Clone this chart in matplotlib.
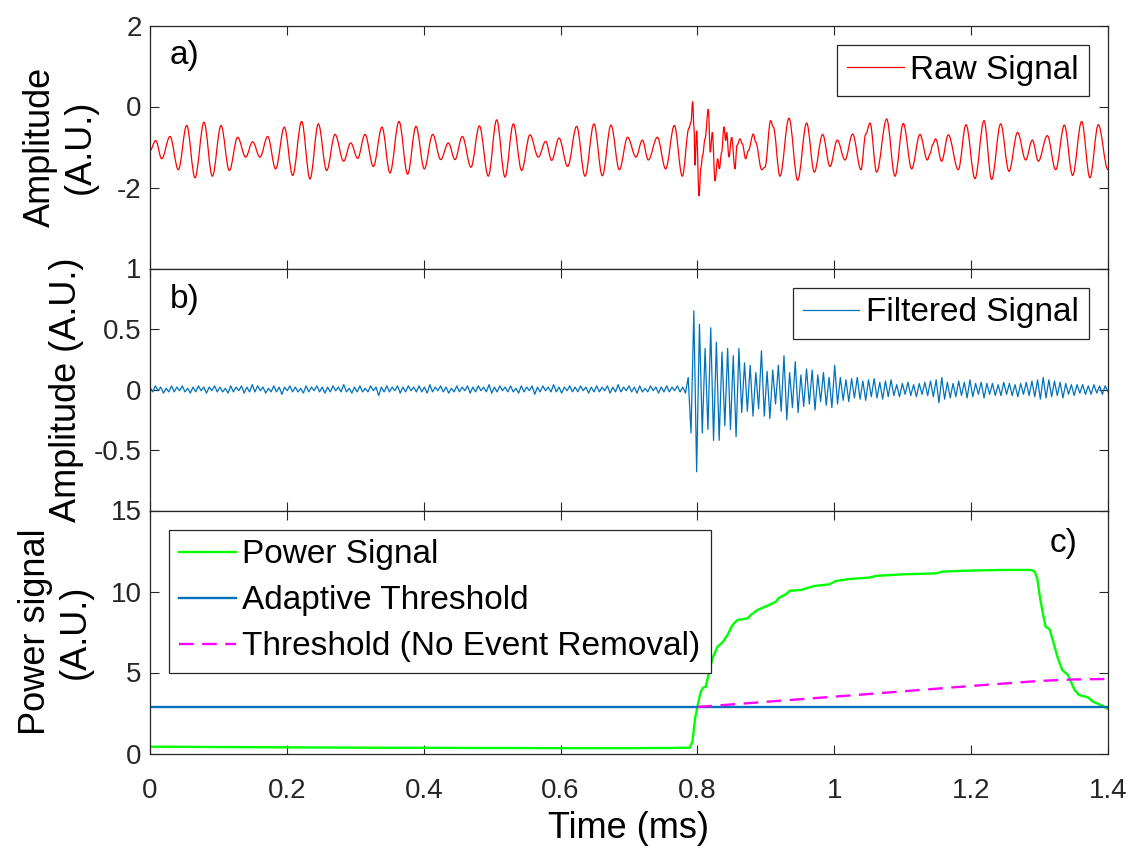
import numpy as np
import matplotlib
matplotlib.use("Agg")
import matplotlib.pyplot as plt
from matplotlib.path import Path
from matplotlib.patches import PathPatch
from matplotlib.lines import Line2D

plt.rcParams['font.family'] = ['Liberation Sans', 'DejaVu Sans']

# ---------------- data ----------------
# Raw signal (extrema), time in ms
raw_t = [0.0000, 0.0083, 0.0171, 0.0292, 0.0414, 0.0536, 0.0658, 0.0789, 0.0911, 0.1038,
         0.1159, 0.1281, 0.1398, 0.1500, 0.1607, 0.1720, 0.1836, 0.1963, 0.2085, 0.2216,
         0.2338, 0.2460, 0.2582, 0.2704, 0.2830, 0.2933, 0.3035, 0.3142, 0.3264, 0.3390,
         0.3507, 0.3639, 0.3765, 0.3887, 0.4009, 0.4131, 0.4248, 0.4360, 0.4457, 0.4564,
         0.4691, 0.4813, 0.4944, 0.5066, 0.5188, 0.5310, 0.5431, 0.5553, 0.5675, 0.5782,
         0.5870, 0.5977, 0.6104, 0.6235, 0.6357, 0.6488, 0.6610, 0.6737, 0.6859, 0.6980,
         0.7102, 0.7195, 0.7282, 0.7414, 0.7536, 0.7662, 0.7779, 0.7877, 0.7906, 0.7930,
         0.7950, 0.7964, 0.7989, 0.8023, 0.8052, 0.8076, 0.8111, 0.8159, 0.8188, 0.8218,
         0.8257, 0.8296, 0.8320, 0.8354, 0.8388, 0.8413, 0.8427, 0.8461, 0.8500, 0.8549,
         0.8578, 0.8622, 0.8656, 0.8705, 0.8744, 0.8817, 0.8851, 0.8939, 0.8987, 0.9070,
         0.9109, 0.9206, 0.9338, 0.9465, 0.9596, 0.9708, 0.9830, 0.9937, 1.0044, 1.0156,
         1.0268, 1.0390, 1.0460, 1.0522, 1.0619, 1.0765, 1.0887, 1.1009, 1.1131, 1.1252,
         1.1360, 1.1400, 1.1437, 1.1481, 1.1569, 1.1666, 1.1812, 1.1925, 1.2056, 1.2188,
         1.2300, 1.2431, 1.2553, 1.2679, 1.2797, 1.2894, 1.2982, 1.3113, 1.3235, 1.3362,
         1.3483, 1.3615, 1.3736, 1.3858, 1.4000]
raw_v = [-1.09, -0.84, -1.29, -0.74, -1.56, -0.47, -1.76, -0.39, -1.72, -0.47,
         -1.58, -0.76, -1.25, -0.87, -1.25, -0.74, -1.54, -0.51, -1.70, -0.37,
         -1.79, -0.43, -1.58, -0.69, -1.35, -0.90, -1.28, -0.69, -1.48, -0.51,
         -1.64, -0.37, -1.67, -0.49, -1.54, -0.69, -1.31, -0.90, -1.31, -0.74,
         -1.50, -0.48, -1.72, -0.33, -1.74, -0.43, -1.58, -0.70, -1.25, -0.86,
         -1.33, -0.78, -1.48, -0.49, -1.72, -0.43, -1.71, -0.46, -1.56, -0.76,
         -1.25, -0.83, -1.32, -0.76, -1.54, -0.47, -1.72, -0.53, -0.39, 0.12,
         -0.52, -1.45, -0.60, -2.21, -1.50, -1.21, -0.80, -0.07, -1.13, -0.64,
         -1.84, -1.29, -1.54, -1.13, -0.50, -0.84, -0.64, -1.25, -0.76, -1.54,
         -0.96, -0.80, -0.92, -1.29, -1.09, -0.68, -0.88, -1.56, -1.50, -0.35,
         -0.51, -1.72, -0.29, -1.82, -0.41, -1.62, -0.69, -1.48, -0.83, -1.32,
         -0.68, -1.56, -0.68, -0.41, -1.62, -0.31, -1.72, -0.42, -1.54, -0.69,
         -1.32, -1.17, -0.94, -0.80, -1.35, -0.70, -1.56, -0.45, -1.78, -0.35,
         -1.80, -0.43, -1.60, -0.64, -1.32, -0.83, -1.35, -0.72, -1.56, -0.46,
         -1.70, -0.37, -1.76, -0.45, -1.56]

# Filtered signal: background noise before the event (uniformly sampled extrema)
filt_pre_start, filt_pre_end = 0.0, 0.7825
filt_pre_v = [
    0.02, -0.02, 0.03, -0.01, 0.02, -0.03, 0.01, -0.02, 0.03, -0.02, 0.02, -0.01, 0.03, -0.02, 0.01, -0.03, 0.02, -0.02, 0.03, -0.01,
    0.02, -0.03, 0.02, -0.01, 0.03, -0.02, 0.02, -0.02, 0.01, -0.03, 0.03, -0.02, 0.02, -0.01, 0.03, -0.03, 0.02, -0.02, 0.04, -0.02,
    0.03, -0.01, 0.02, -0.03, 0.01, -0.02, 0.03, -0.02, 0.02, -0.04, 0.02, -0.01, 0.03, -0.02, 0.02, -0.02, 0.01, -0.03, 0.03, -0.02,
    0.02, -0.01, 0.03, -0.02, 0.02, -0.03, 0.02, -0.02, 0.03, -0.01, 0.02, -0.02, 0.04, -0.02, 0.01, -0.03, 0.02, -0.02, 0.03, -0.02,
    0.01, -0.02, 0.03, -0.01, 0.02, -0.05, 0.02, -0.02, 0.03, -0.02, 0.02, -0.01, 0.03, -0.03, 0.02, -0.02, 0.03, -0.01, 0.02, -0.02,
    0.03, -0.02, 0.02, -0.03, 0.04, -0.02, 0.02, -0.01, 0.03, -0.02, 0.02, -0.03, 0.01, -0.02, 0.03, -0.02, 0.02, -0.01, 0.03, -0.03,
    0.02, -0.02, 0.03, -0.01, 0.02, -0.02, 0.04, -0.03, 0.02, -0.02, 0.03, -0.01, 0.02, -0.02, 0.03, -0.02, 0.01, -0.03, 0.03, -0.02,
    0.02, -0.01, 0.03, -0.04, 0.02, -0.02, 0.03, -0.01, 0.02, -0.02, 0.04, -0.02, 0.02, -0.03, 0.02, -0.01, 0.03, -0.02, 0.02, -0.02,
    0.03, -0.01, 0.02, -0.03, 0.02, -0.02, 0.03, -0.02, 0.02, -0.01, 0.03, -0.03, 0.02, -0.02, 0.04, -0.02, 0.02, -0.01, 0.03, -0.02,
    0.02, -0.03, 0.03, -0.02, 0.01, -0.02, 0.03, -0.01, 0.02, -0.03, 0.02, -0.02, 0.03, -0.02, 0.02, -0.01, 0.03, -0.02, 0.02, -0.03]

# Filtered signal: event burst and decay (uniformly sampled extrema)
filt_evt_start, filt_evt_end = 0.7865, 1.4
filt_evt_v = [
    0.10, -0.36, 0.65, -0.68, 0.54, -0.36, 0.34, -0.33, 0.51, -0.42,
    0.39, -0.42, 0.31, -0.30, 0.34, -0.33, 0.28, -0.39, 0.34, -0.19,
    0.22, -0.18, 0.20, -0.22, 0.14, -0.16, 0.32, -0.22, 0.15, -0.24,
    0.16, -0.12, 0.20, -0.18, 0.28, -0.25, 0.14, -0.15, 0.23, -0.19,
    0.12, -0.14, 0.17, -0.12, 0.16, -0.17, 0.12, -0.10, 0.14, -0.13,
    0.10, -0.15, 0.20, -0.12, 0.10, -0.09, 0.08, -0.10, 0.09, -0.07,
    0.10, -0.08, 0.07, -0.09, 0.08, -0.06, 0.09, -0.07, 0.06, -0.08,
    0.07, -0.06, 0.08, -0.05, 0.04, -0.06, 0.05, -0.04, 0.06, -0.05,
    0.04, -0.06, 0.05, -0.04, 0.06, -0.05, 0.07, -0.06, 0.08, -0.11,
    0.10, -0.08, 0.06, -0.07, 0.05, -0.06, 0.07, -0.05, 0.06, -0.07,
    0.08, -0.06, 0.05, -0.04, 0.06, -0.07, 0.05, -0.04, 0.05, -0.05,
    0.04, -0.05, 0.06, -0.04, 0.05, -0.05, 0.04, -0.06, 0.05, -0.04,
    0.06, -0.05, 0.07, -0.06, 0.08, -0.08, 0.10, -0.07, 0.08, -0.06,
    0.07, -0.05, 0.06, -0.07, 0.05, -0.04, 0.04, -0.05, 0.04, -0.03,
    0.04, -0.04, 0.03, -0.04, 0.04, -0.03, 0.03, -0.04, 0.03, -0.02]

# Power signal
power_t = [0.0, 0.1, 0.2, 0.3, 0.4, 0.5, 0.6, 0.7, 0.7585, 0.7888,
           0.7927, 0.7966, 0.8015, 0.8049, 0.8083, 0.8122, 0.8161, 0.8220, 0.8293, 0.8366,
           0.8439, 0.8512, 0.8585, 0.8732, 0.8780, 0.8878, 0.9049, 0.9146, 0.9195, 0.9293,
           0.9351, 0.9512, 0.9707, 0.9927, 1.0024, 1.0220, 1.0512, 1.0610, 1.1000, 1.1488,
           1.1585, 1.1976, 1.2463, 1.2878, 1.2927, 1.2966, 1.3000, 1.3039, 1.3088, 1.3146,
           1.3185, 1.3268, 1.3332, 1.3415, 1.3512, 1.3576, 1.3707, 1.3780, 1.3878, 1.4000]
power_v = [0.42, 0.40, 0.38, 0.36, 0.35, 0.34, 0.33, 0.33, 0.34, 0.36,
           0.73, 2.17, 3.20, 3.82, 4.06, 4.13, 4.85, 5.87, 6.59, 6.86,
           7.31, 7.93, 8.24, 8.34, 8.55, 8.86, 9.17, 9.37, 9.62, 9.83,
           10.05, 10.09, 10.34, 10.44, 10.65, 10.77, 10.86, 10.96, 11.06, 11.12,
           11.23, 11.29, 11.33, 11.33, 11.23, 10.81, 9.79, 8.86, 7.83, 7.68,
           7.11, 5.87, 5.15, 4.85, 3.92, 3.61, 3.47, 3.20, 3.03, 2.75]

# Thresholds
adapt_t = [0.0, 1.4]
adapt_v = [2.87, 2.87]
noremove_t = [0.80, 1.05, 1.20, 1.30, 1.35, 1.40]
noremove_v = [2.87, 3.67, 4.17, 4.48, 4.57, 4.60]

xticks = [0, 0.2, 0.4, 0.6, 0.8, 1.0, 1.2, 1.4]
xticklabels = ['0', '0.2', '0.4', '0.6', '0.8', '1', '1.2', '1.4']

# ---------------- figure ----------------
W, H = 1134, 851
fig = plt.figure(figsize=(W / 100, H / 100), dpi=100)

def ax_rect(top_px, bot_px):
    left = 150 / W
    width = (1108 - 150) / W
    return [left, 1 - bot_px / H, width, (bot_px - top_px) / H]

axA = fig.add_axes(ax_rect(25.5, 268.5))
axB = fig.add_axes(ax_rect(268.5, 510.5))
axC = fig.add_axes(ax_rect(510.5, 753.5))

FS = 20      # tick labels
FL = 24      # legends / panel letters
FY = 26      # axis labels
TXT = '#262626'
for ax in (axA, axB, axC):
    ax.set_xlim(0, 1.4)
    ax.set_xticks(xticks)
    ax.tick_params(direction='in', length=6.5, width=0.8, top=True, right=True,
                   labelsize=FS, colors=TXT, pad=6)
    for s in ax.spines.values():
        s.set_color(TXT)
        s.set_linewidth(0.9)

def smooth_path(t, v):
    """Cubic Bezier path through the extrema (horizontal tangent at each extremum)."""
    verts = [(t[0], v[0])]
    codes = [Path.MOVETO]
    for i in range(1, len(t)):
        dt = t[i] - t[i - 1]
        verts += [(t[i - 1] + 0.36 * dt, v[i - 1]), (t[i] - 0.36 * dt, v[i]), (t[i], v[i])]
        codes += [Path.CURVE4] * 3
    return Path(verts, codes)

def style_legend(leg):
    leg.get_frame().set_linewidth(0.9)
    leg.get_frame().set_edgecolor(TXT)

# Panel a
raw_color = '#FF0000'
axA.add_patch(PathPatch(smooth_path(raw_t, raw_v), fill=False, edgecolor=raw_color, lw=0.9))
axA.set_ylim(-4, 2)
axA.set_yticks([-2, 0, 2])
axA.set_yticklabels(['-2', '0', '2'])
axA.set_xticklabels([])
axA.set_ylabel('Amplitude\n(A.U.)', fontsize=FY, color='black', linespacing=1.15)
axA.yaxis.set_label_coords(-0.055, 0.5)
axA.text(0.021, 0.875, 'a)', transform=axA.transAxes, fontsize=FL, va='center', ha='left')
legA = axA.legend(handles=[Line2D([], [], color=raw_color, lw=0.9)], labels=['Raw Signal'],
                  loc='upper right', fontsize=FL, fancybox=False, framealpha=1,
                  borderaxespad=0.57, borderpad=0.3, handlelength=1.7, handletextpad=0.2)
style_legend(legA)

# Panel b
pre_t = np.linspace(filt_pre_start, filt_pre_end, len(filt_pre_v))
evt_t = np.linspace(filt_evt_start, filt_evt_end, len(filt_evt_v))
filt_t = np.concatenate([pre_t, evt_t])
filt_v = np.concatenate([filt_pre_v, filt_evt_v])
axB.plot(filt_t, filt_v, color='#0072BD', lw=0.9, label='Filtered Signal')
axB.set_ylim(-1, 1)
axB.set_yticks([-0.5, 0, 0.5, 1])
axB.set_yticklabels(['-0.5', '0', '0.5', '1'])
axB.set_xticklabels([])
axB.set_ylabel('Amplitude (A.U.)', fontsize=FY, color='black')
axB.yaxis.set_label_coords(-0.069, 0.5)
axB.text(0.021, 0.87, 'b)', transform=axB.transAxes, fontsize=FL, va='center', ha='left')
legB = axB.legend(loc='upper right', fontsize=FL, fancybox=False, framealpha=1,
                  borderaxespad=0.57, borderpad=0.3, handlelength=1.7, handletextpad=0.2)
style_legend(legB)

# Panel c
axC.plot(power_t, power_v, color='#00FF00', lw=1.7, label='Power Signal')
axC.plot(adapt_t, adapt_v, color='#0072BD', lw=1.7, label='Adaptive Threshold')
axC.plot(noremove_t, noremove_v, color='#FF00FF', lw=1.7, dashes=(6.2, 3.6),
         label='Threshold (No Event Removal)')
axC.set_ylim(0, 15)
axC.set_yticks([0, 5, 10, 15])
axC.set_xticklabels(xticklabels)
axC.tick_params(axis='x', which='both', pad=18)
axC.set_ylabel('Power signal\n(A.U.)', fontsize=FY, color='black', linespacing=1.18)
axC.yaxis.set_label_coords(-0.060, 0.5)
axC.set_xlabel('Time (ms)', fontsize=FY, color='black', labelpad=5)
axC.text(0.968, 0.866, 'c)', transform=axC.transAxes, fontsize=FL, va='center', ha='right')
legC = axC.legend(loc='upper left', fontsize=FL, fancybox=False, framealpha=1,
                  borderaxespad=0.57, borderpad=0.3, handlelength=1.7, handletextpad=0.2,
                  labelspacing=0.45)
style_legend(legC)

fig.savefig('out.png', dpi=100)
